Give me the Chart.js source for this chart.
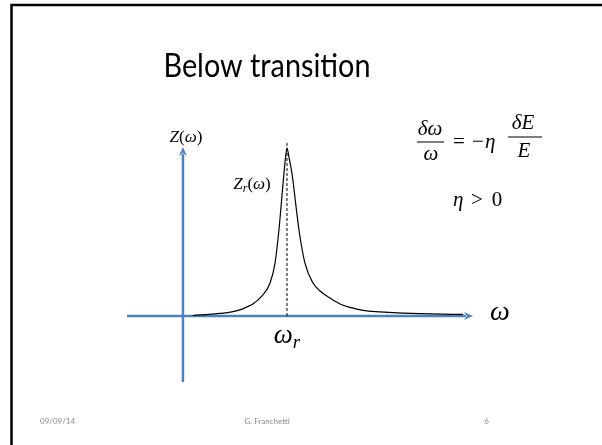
<!DOCTYPE html>
<html>
<head>
<meta charset="utf-8">
<script src="https://cdn.jsdelivr.net/npm/chart.js@4.4.1/dist/chart.umd.min.js"></script>
<style>
  body { margin: 0; background: #fff; }
  canvas { display: block; }
</style>
</head>
<body>
<canvas id="chart" width="602" height="445"></canvas>
<script>
// curve Z_r(omega) (omega_r = 4, peak = 1)
const curveOmega = [0.38, 0.85, 1.42, 1.88, 2.19, 2.46, 2.69, 3.04, 3.35, 3.54, 3.69, 3.77, 3.86, 3.94, 4.0, 4.07, 4.19, 4.35, 4.46, 4.69, 5.0, 5.27, 5.65, 6.04, 6.42, 6.92, 7.58, 8.23, 9.5, 10.77];
const curveZ = [0.003, 0.008, 0.015, 0.024, 0.036, 0.054, 0.071, 0.119, 0.196, 0.315, 0.512, 0.649, 0.81, 0.94, 1.0, 0.95, 0.85, 0.649, 0.512, 0.315, 0.196, 0.149, 0.107, 0.071, 0.051, 0.033, 0.024, 0.018, 0.012, 0.009];

const omegaR = 4;
const dashTop = 1.03;
const xRange = [-2.15, 11.15];
const yRange = [-0.393, 1.006];

const axisBlue = "#4f81bd";
const mathFont = "'Liberation Serif', 'DejaVu Serif', serif";

function runs(ctx, x, y, parts, align) {
  // parts: [text, font, dy]
  let w = 0;
  parts.forEach(p => { ctx.font = p[1]; w += ctx.measureText(p[0]).width; });
  let cx = align === "center" ? x - w / 2 : (align === "right" ? x - w : x);
  ctx.textAlign = "left";
  ctx.textBaseline = "alphabetic";
  parts.forEach(p => {
    ctx.font = p[1];
    ctx.fillText(p[0], cx, y + (p[2] || 0));
    cx += ctx.measureText(p[0]).width;
  });
}

function arrow(ctx, x1, y1, x2, y2) {
  const a = Math.atan2(y2 - y1, x2 - x1);
  const L = 9, W = 4;
  ctx.beginPath();
  ctx.moveTo(x1, y1);
  ctx.lineTo(x2 - (L - 2) * Math.cos(a), y2 - (L - 2) * Math.sin(a));
  ctx.stroke();
  ctx.beginPath();
  ctx.moveTo(x2, y2);
  ctx.lineTo(x2 - L * Math.cos(a) - W * Math.sin(a), y2 - L * Math.sin(a) + W * Math.cos(a));
  ctx.lineTo(x2 - (L - 3) * Math.cos(a), y2 - (L - 3) * Math.sin(a));
  ctx.lineTo(x2 - L * Math.cos(a) + W * Math.sin(a), y2 - L * Math.sin(a) - W * Math.cos(a));
  ctx.closePath();
  ctx.fill();
}

const slidePlugin = {
  id: "slide",
  beforeDatasetsDraw(chart) {
    const ctx = chart.ctx, xs = chart.scales.x, ys = chart.scales.y;
    ctx.save();
    ctx.strokeStyle = axisBlue;
    ctx.fillStyle = axisBlue;
    ctx.lineWidth = 2.5;
    const y0 = ys.getPixelForValue(0), x0 = xs.getPixelForValue(0);
    arrow(ctx, xs.getPixelForValue(xRange[0]), y0, xs.getPixelForValue(xRange[1]), y0);
    arrow(ctx, x0, ys.getPixelForValue(yRange[0]), x0, ys.getPixelForValue(yRange[1]));
    ctx.restore();
  },
  afterDraw(chart) {
    const ctx = chart.ctx, xs = chart.scales.x, ys = chart.scales.y;
    ctx.save();
    // slide frame
    ctx.strokeStyle = "#000";
    ctx.lineWidth = 2.5;
    ctx.beginPath();
    ctx.moveTo(11.5, 445);
    ctx.lineTo(11.5, 5);
    ctx.lineTo(602, 5);
    ctx.stroke();

    // title, a bit taller than Lato's own proportions (Calibri-like)
    ctx.fillStyle = "#000";
    ctx.font = "33px Lato";
    const tw = ctx.measureText("Below transition").width;
    ctx.save();
    ctx.translate(267, 77);
    ctx.scale(207 / tw, 1);
    ctx.textAlign = "center";
    ctx.textBaseline = "alphabetic";
    ctx.fillText("Below transition", 0, 0);
    ctx.restore();

    // axis labels
    const x0 = xs.getPixelForValue(0), y0 = ys.getPixelForValue(0);
    const it = s => "italic " + s + "px " + mathFont;
    const up = s => s + "px " + mathFont;
    runs(ctx, x0 + 3, 142, [["Z", it(17)], ["(", up(17)], ["ω", it(17)], [")", up(17)]], "center");
    runs(ctx, 252, 189, [["Z", it(17)], ["r", it(12), 3], ["(", up(17)], ["ω", it(17)], [")", up(17)]], "center");
    runs(ctx, xs.getPixelForValue(xRange[1]) + 17, y0 + 4, [["ω", it(28)]], "left");
    runs(ctx, xs.getPixelForValue(omegaR), 343, [["ω", it(27)], ["r", it(19), 5]], "center");

    // formula
    runs(ctx, 430, 135, [["δω", it(21)]], "center");
    runs(ctx, 431, 160, [["ω", it(21)]], "center");
    ctx.fillRect(417, 141.5, 27, 1);
    runs(ctx, 453, 148, [["=", up(21)]], "left");
    runs(ctx, 472, 148, [["−", up(21)]], "left");
    runs(ctx, 485, 148, [["η", it(21)]], "left");
    runs(ctx, 523, 129, [["δE", it(21)]], "center");
    runs(ctx, 524, 157, [["E", it(21)]], "center");
    ctx.fillRect(508, 136.5, 34, 1);
    runs(ctx, 453, 206, [["η", it(21)]], "left");
    runs(ctx, 477, 206, [[">", up(21)]], "center");
    runs(ctx, 497, 206, [["0", up(21)]], "center");

    // footer
    ctx.fillStyle = "#8c8c8c";
    runs(ctx, 40, 424, [["09/09/14", "8px Lato"]], "left");
    runs(ctx, 267, 424, [["G. Franchetti", "8px Lato"]], "center");
    runs(ctx, 489, 424, [["6", "8px Lato"]], "right");
    ctx.restore();
  }
};

new Chart(document.getElementById("chart"), {
  type: "scatter",
  data: {
    datasets: [
      {
        data: curveOmega.map((w, i) => ({ x: w, y: curveZ[i] })),
        showLine: true,
        borderColor: "#000",
        borderWidth: 1.2,
        pointRadius: 0,
        cubicInterpolationMode: "monotone",
      },
      {
        data: [{ x: omegaR, y: 0 }, { x: omegaR, y: dashTop }],
        showLine: true,
        borderColor: "#000",
        borderWidth: 1,
        borderDash: [3, 2],
        pointRadius: 0,
        clip: false,
      },
    ],
  },
  options: {
    responsive: false,
    animation: false,
    layout: { padding: { left: 127, right: 129, top: 147, bottom: 63 } },
    scales: {
      x: { type: "linear", min: xRange[0], max: xRange[1], display: false },
      y: { type: "linear", min: yRange[0], max: yRange[1], display: false },
    },
    plugins: { legend: { display: false }, tooltip: { enabled: false } },
  },
  plugins: [slidePlugin],
});
</script>
</body>
</html>
